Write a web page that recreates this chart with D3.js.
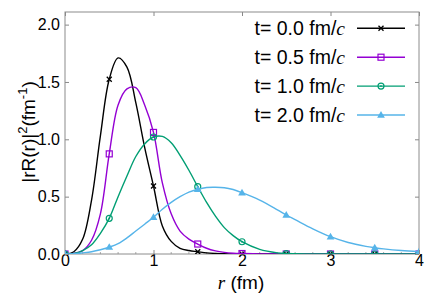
<!DOCTYPE html>
<html><head><meta charset="utf-8">
<script src="https://cdn.jsdelivr.net/npm/d3@7"></script>
<style>body{margin:0;background:#fff}svg{display:block}</style>
</head><body><svg id="c" width="436" height="299"></svg>
<script>
// ---- data ----
const rValues = [0,0.1,0.2,0.3,0.4,0.5,0.6,0.7,0.8,0.9,1.0,1.1,1.2,1.3,1.4,1.5,1.6,1.7,1.8,1.9,2.0,2.2,2.4,2.5,2.6,2.8,3.0,3.2,3.4,3.5,3.6,3.8,4.0];
const t00 = [0,0.02,0.13,0.47,1.03,1.524,1.71,1.63,1.32,0.93,0.593,0.245,0.11,0.05,0.03,0.02,0.01,0.005,0.002,0.001,0,0,0,0,0,0,0,0,0,0,0,0,0];
const t05 = [0,0.005,0.03,0.12,0.35,0.873,1.30,1.44,1.45,1.30,1.06,0.62,0.35,0.20,0.13,0.087,0.05,0.027,0.014,0.007,0.004,0.001,0,0,0,0,0,0,0,0,0,0,0];
const t10 = [0,0.005,0.03,0.08,0.18,0.311,0.50,0.68,0.85,0.96,1.02,1.025,0.97,0.86,0.73,0.587,0.45,0.33,0.23,0.16,0.107,0.04,0.01,0.004,0.002,0,0,0,0,0,0,0,0];
const t20 = [0,0.002,0.01,0.02,0.037,0.06,0.09,0.14,0.20,0.26,0.32,0.39,0.45,0.50,0.54,0.565,0.58,0.582,0.578,0.562,0.535,0.47,0.385,0.34,0.30,0.22,0.151,0.10,0.067,0.055,0.045,0.03,0.02];
const seriesLabels = ["t= 0.0 fm/","t= 0.5 fm/","t= 1.0 fm/","t= 2.0 fm/"];
const seriesColors = ["#000000","#9400d3","#009e73","#56b4e9"];
const seriesMarkers = ["times","square","circle","triangle"];
const xTicks = [0,1,2,3,4];
const xTickLabels = ["0","1","2","3","4"];
const yTicks = [0,0.5,1.0,1.5,2.0];
const yTickLabels = ["0.0","0.5","1.0","1.5","2.0"];

const seriesValues = [t00,t05,t10,t20];
const series = seriesValues.map((vals,i)=>({
  label: seriesLabels[i], color: seriesColors[i], marker: seriesMarkers[i],
  points: rValues.map((r,j)=>({r, v: vals[j]}))
}));

// ---- layout ----
const L=65, R=419, T=12, B=254;
const x = d3.scaleLinear().domain([0,4]).range([L,R]);
const y = d3.scaleLinear().domain([0,2.11]).range([B,T]);
const sans = "'Liberation Sans', Arial, Helvetica, sans-serif";
const serif = "'Liberation Serif', 'Times New Roman', serif";

const svg = d3.select("#c");

// axes (inward ticks)
function styleAxis(g){
  g.select(".domain").remove();
  g.selectAll(".tick line").attr("stroke","#888").attr("stroke-width",1);
  g.selectAll("text").attr("font-family",sans).attr("font-size",16).attr("fill","#000");
}
svg.append("g").attr("transform",`translate(0,${B})`)
  .call(d3.axisBottom(x).tickValues(xTicks).tickFormat((d,i)=>xTickLabels[i]).tickSizeInner(-4).tickSizeOuter(0).tickPadding(1))
  .call(styleAxis);
svg.append("g").attr("transform",`translate(0,${T})`)
  .call(d3.axisTop(x).tickValues(xTicks).tickFormat("").tickSizeInner(-4).tickSizeOuter(0))
  .call(styleAxis);
svg.append("g").attr("transform",`translate(${L},0)`)
  .call(d3.axisLeft(y).tickValues(yTicks).tickFormat((d,i)=>yTickLabels[i]).tickSizeInner(-4).tickSizeOuter(0).tickPadding(5))
  .call(styleAxis);
svg.append("g").attr("transform",`translate(${R},0)`)
  .call(d3.axisRight(y).tickValues(yTicks).tickFormat("").tickSizeInner(-4).tickSizeOuter(0))
  .call(styleAxis);
// minor x ticks
const minorX = d3.range(0,4.001,0.2).filter(v=>Math.abs(v-Math.round(v))>1e-6);
svg.append("g").selectAll("line").data(minorX).join("line")
  .attr("x1",d=>x(d)).attr("x2",d=>x(d)).attr("y1",B).attr("y2",B-2)
  .attr("stroke","#aaa").attr("stroke-width",1);

// frame
svg.append("rect").attr("x",L).attr("y",T).attr("width",R-L).attr("height",B-T)
  .attr("fill","none").attr("stroke","#8c8c8c").attr("stroke-width",1);

// clip
svg.append("clipPath").attr("id","clip").append("rect")
  .attr("x",L).attr("y",T).attr("width",R-L).attr("height",B-T);

const line = d3.line().x(d=>x(d.r)).y(d=>y(d.v)).curve(d3.curveCatmullRom.alpha(0.5));

function drawMarker(g, type, color, cx, cy){
  if(type==="times"){
    g.append("path").attr("d",d3.symbol(d3.symbolTimes,18)())
      .attr("transform",`translate(${cx},${cy})`).attr("fill","none").attr("stroke",color).attr("stroke-width",1.3);
  } else if(type==="square"){
    g.append("rect").attr("x",cx-3).attr("y",cy-3).attr("width",6).attr("height",6)
      .attr("fill","none").attr("stroke",color).attr("stroke-width",1.2);
  } else if(type==="circle"){
    g.append("circle").attr("cx",cx).attr("cy",cy).attr("r",3)
      .attr("fill","none").attr("stroke",color).attr("stroke-width",1.2);
    g.append("circle").attr("cx",cx).attr("cy",cy).attr("r",0.9).attr("fill",color);
  } else {
    g.append("path").attr("d",d3.symbol(d3.symbolTriangle,26)())
      .attr("transform",`translate(${cx},${cy+0.5})`).attr("fill",color);
  }
}

const plot = svg.append("g").attr("clip-path","url(#clip)");
series.forEach(s=>{
  const g = plot.append("g");
  g.append("path").datum(s.points).attr("d",line).attr("fill","none")
    .attr("stroke",s.color).attr("stroke-width",1.4);
  s.points.filter(p=>Math.abs(p.r*2-Math.round(p.r*2))<1e-6)
    .forEach(p=>drawMarker(g,s.marker,s.color,x(p.r),y(p.v)));
});

// legend
series.forEach((s,i)=>{
  const ly = 28.3 + i*28.9;
  const g = svg.append("g");
  g.append("line").attr("x1",357).attr("x2",405).attr("y1",ly).attr("y2",ly)
    .attr("stroke",s.color).attr("stroke-width",1.4);
  drawMarker(g,s.marker,s.color,381,ly);
  const t = g.append("text").attr("x",345).attr("y",ly+7).attr("text-anchor","end")
    .attr("font-size",19.5).attr("fill","#000");
  t.append("tspan").attr("font-family",sans).text(s.label);
  t.append("tspan").attr("font-family",serif).attr("font-style","italic").text("c");
});

// y label
const yl = svg.append("text").attr("transform","translate(35,132) rotate(-90)")
  .attr("text-anchor","middle").attr("font-family",sans).attr("font-size",19).attr("fill","#000");
yl.append("tspan").text("|rR(r)|");
yl.append("tspan").attr("font-size",13).attr("dy",-8).text("2");
yl.append("tspan").attr("dy",8).text("(fm");
yl.append("tspan").attr("font-size",13).attr("dy",-8).text("-1");
yl.append("tspan").attr("dy",8).text(")");

// x label
const xl = svg.append("text").attr("x",241).attr("y",289).attr("text-anchor","middle")
  .attr("font-size",19).attr("fill","#000");
xl.append("tspan").attr("font-family",serif).attr("font-style","italic").text("r");
xl.append("tspan").attr("font-family",sans).text(" (fm)");
</script></body></html>
